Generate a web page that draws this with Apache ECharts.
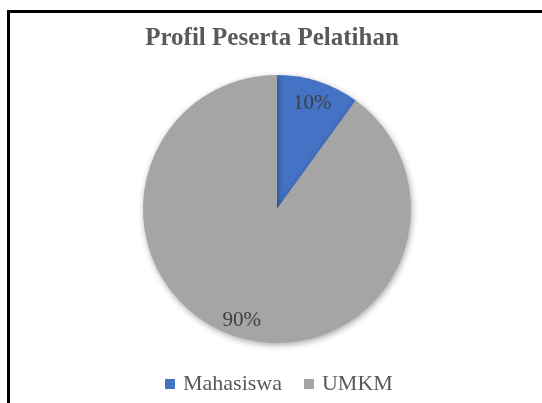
<!DOCTYPE html>
<html>
<head>
<meta charset="utf-8">
<script src="https://cdn.jsdelivr.net/npm/echarts@6/dist/echarts.min.js"></script>
<style>
  html, body { margin: 0; padding: 0; background: #fff; }
  #frame {
    position: absolute; left: 7px; top: 10px; width: 600px; height: 500px;
    border-left: 3px solid #000; border-top: 3px solid #000;
  }
  #chart { position: absolute; left: 0; top: 0; width: 542px; height: 403px; }
</style>
</head>
<body>
<div id="frame"></div>
<div id="chart"></div>
<script>
// data
const categories = ["Mahasiswa", "UMKM"];
const values = [10, 90];
const colors = ["#4472C4", "#A5A5A5"];
const titleText = "Profil Peserta Pelatihan";

const serif = "'Liberation Serif', 'DejaVu Serif', serif";
const pieData = categories.map((name, i) => ({
  name: name,
  value: values[i],
  itemStyle: { color: colors[i] },
}));

let option = {
  animation: false,
  title: {
    text: titleText,
    left: 267,
    textAlign: "center",
    top: 21,
    textStyle: {
      fontFamily: serif,
      fontWeight: "bold",
      fontSize: 25,
      color: "#595959",
    },
  },
  legend: {
    bottom: 3,
    left: 160,
    itemWidth: 10,
    itemHeight: 10,
    itemGap: 22,
    icon: "rect",
    textStyle: { fontFamily: serif, fontSize: 22, color: "#595959", padding: [0, 0, 0, 3] },
  },
  series: [
    {
      // visible pie
      type: "pie",
      center: [277, 209],
      radius: 134,
      startAngle: 90,
      clockwise: true,
      silent: true,
      data: pieData,
      label: { show: false },
      labelLine: { show: false },
      itemStyle: {
        borderWidth: 0,
        shadowBlur: 6,
        shadowColor: "rgba(0,0,0,0.35)",
        shadowOffsetX: 1,
        shadowOffsetY: 2,
      },
    },
    {
      // transparent overlay: only carries the labels further out
      type: "pie",
      center: [277, 209],
      radius: 222,
      startAngle: 90,
      clockwise: true,
      silent: true,
      data: pieData.map((d) => ({ name: d.name, value: d.value })),
      itemStyle: { color: "rgba(0,0,0,0)", borderWidth: 0 },
      label: {
        show: true,
        position: "inside",
        formatter: "{d}%",
        fontFamily: serif,
        fontSize: 21,
        color: "#404040",
        offset: [0, 3],
      },
      labelLine: { show: false },
    },
  ],
};

let myChart = echarts.init(document.getElementById("chart"));
myChart.setOption(option);
</script>
</body>
</html>
